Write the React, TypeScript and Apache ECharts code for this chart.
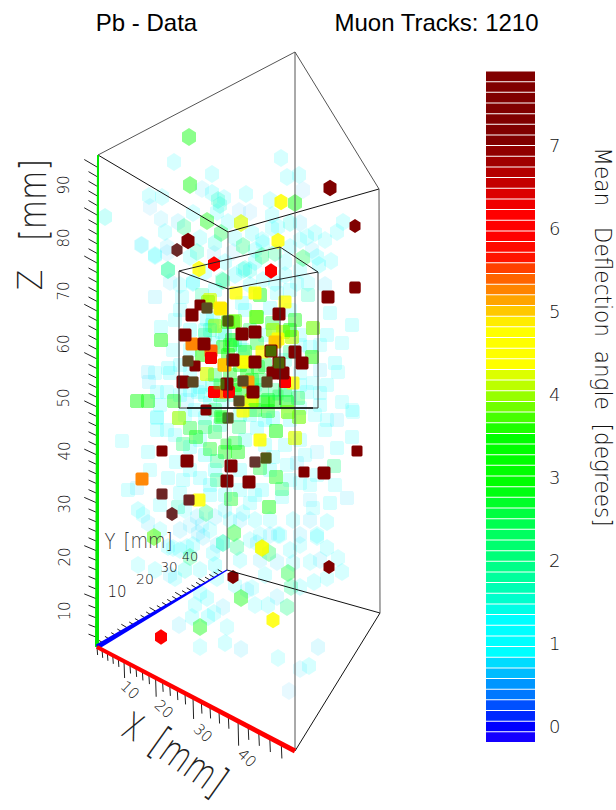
import React, { useEffect, useRef } from "react";
import * as echarts from "echarts";

// Colour scale rows of the bar, bottom to top
const rowColors = [
  "#1400ff","#0000ff","#0028ff","#0050ff","#0078ff","#0096ff","#00bcff","#00dcff","#00ffff","#00ffff","#00ffff","#00ffff",
  "#00ffe6","#00ffcc","#00ffb4","#00ff9c","#00ff88","#00ff78","#00ff6e","#00ff60","#00ff50","#00ff40","#00ff28","#00ff10",
  "#00ff00","#00ff00","#00ff00","#00ff00","#00ff00","#1eff00","#46ff00","#70ff00","#96ff00","#bcff00","#dcff00",
  "#ffff00","#ffff00","#ffff00","#ffff00","#ffec00","#ffc800","#ffa400","#ff8400","#ff6400","#ff4000","#ff1400","#ff0a00",
  "#ff0000","#ff0000","#ff0000","#f00000","#dc0000","#c40000","#b40000","#a00000","#900000",
  "#800000","#800000","#800000","#800000","#800000","#800000","#800000",
];
const scaleMin = -0.205;
const scaleMax = 7.895;
const scaleLabels = [0, 1, 2, 3, 4, 5, 6, 7];

// Picture-plane position and mean deflection angle of each voxel
const faintMarks: number[][] = [
  [174,162,1],[212,174,1],[281,158,1],[287,177,1],[299,175,1],[303,190,0.6],[246,194,1],[149,196,1],[162,197,1],[150,207,0.6],
  [202,189,0.7],[212,193,1.2],[218,200,1.6],[224,198,1],[220,205,1.5],[105,217,1.4],[161,219,0.7],[193,213,1],[217,212,1],[228,222,1],
  [239,211,0.6],[250,212,0.6],[270,200,1],[272,215,1],[290,223,1.4],[300,223,0.8],[278,227,1],[252,233,1.1],[272,228,1],[343,222,1],
  [337,232,1],[315,233,1],[307,237,1],[262,240,1],[215,243,1.4],[141,245,0.7],[155,256,1],[167,253,0.6],[197,252,1.7],[190,257,1],
  [214,254,0.6],[233,252,0.6],[290,247,1.1],[312,250,0.7],[317,257,1.1],[331,261,1],[319,265,1.2],[263,243,1],[245,269,1.5],[250,270,1.4],
  [193,282,1],[142,245,0.9],[155,255,1],[167,247,0.7],[168,270,1.6],[170,282,0.7],[155,297,0.8],[182,297,1],[193,283,1.2],[202,295,1.8],
  [161,327,1],[173,350,0.9],[180,310,1],[207,319,1.3],[213,318,1.2],[243,270,1.4],[222,280,1.5],[242,303,1.2],[263,280,1.1],[277,293,1],
  [308,295,1.6],[290,310,1.1],[308,283,0.9],[297,283,1],[330,313,1],[352,325,1],[327,335,1.1],[342,343,0.9],[310,347,1],[335,363,1],
  [338,372,0.9],[313,383,0.9],[327,385,1],[342,402,0.9],[353,412,0.9],[148,372,0.8],[155,373,0.9],[168,368,1.1],[170,373,1.2],[149,382,0.8],
  [167,392,1],[157,392,1],[190,373,1.1],[200,387,1.2],[187,400,0.8],[210,403,1.3],[223,400,1.2],[307,392,1],[320,393,1],[300,373,0.9],
  [157,417,1],[213,343,1.3],[198,392,1.3],[243,350,1.6],[235,340,1.8],[122,441,0.9],[148,452,1],[157,418,1],[157,430,1],[167,430,1],
  [176,462,1],[168,478,1],[128,490,1],[137,488,0.8],[138,510,1.1],[148,523,0.8],[143,515,0.9],[200,478,1.1],[183,480,1],[180,493,1],
  [197,517,0.8],[215,517,0.8],[250,503,1],[255,520,1],[278,535,1],[293,520,1],[313,508,0.9],[330,503,1],[347,498,0.8],[335,485,0.9],
  [317,475,1],[317,452,0.7],[337,448,1],[327,420,0.9],[337,420,0.8],[352,437,1],[352,410,0.9],[273,418,1.2],[257,428,1.3],[290,420,1.2],
  [243,513,1],[317,535,1],[327,522,1],[282,497,1],[300,483,0.9],[287,465,0.9],[297,463,0.8],[273,457,1.2],[190,447,1.2],[200,440,1.1],
  [202,525,0.7],[203,537,0.8],[217,545,0.8],[198,533,0.8],[180,550,1],[168,547,1],[138,565,0.9],[155,570,1],[175,578,1],[185,570,1.4],
  [170,575,0.8],[200,593,1],[207,598,1.1],[217,578,1],[247,590,0.8],[252,588,0.9],[265,575,1],[277,562,0.8],[293,563,0.9],[310,562,0.9],
  [317,537,1],[338,558,0.9],[327,548,1],[290,550,1],[280,535,1],[257,543,0.8],[223,543,1.6],[213,553,1],[193,545,1],[187,547,1],
  [173,548,1],[179,625,0.8],[192,617,1],[227,627,0.9],[200,647,0.9],[225,643,1],[241,649,0.8],[278,658,0.9],[318,647,0.8],[309,666,1],
  [300,669,0.7],[289,691,0.6],[214,613,1],[208,617,1.1],[223,607,0.8],[268,605,1],[277,597,0.8],[314,582,1],[342,572,1],[327,578,0.9],
  [300,587,1],[240,470,1.2],[262,490,1.1],[210,495,1.1],[225,510,1],[260,535,0.9],[240,520,0.8],[300,440,1],[310,500,0.7],[215,470,1.3],
  [165,232,1],[178,222,0.8],[200,238,1],[235,238,1],[255,250,1.1],[285,262,1],[300,240,0.9],[325,240,0.9],[205,272,1],[225,262,1.1],
  [255,262,1.2],[285,275,1],[300,270,1],[180,285,0.9],[215,290,1.2],[235,275,1.3],[275,283,1],[290,290,1.1],[250,285,1.1],[325,285,0.8],
  [175,320,1],[190,330,1.3],[205,330,1.4],[212,325,1.5],[222,332,1.4],[245,310,1.2],[270,308,1.2],[300,335,1],[320,345,0.9],[190,350,1.2],
  [180,365,1.2],[225,335,1.5],[240,345,1.4],[265,335,1.2],[300,345,1],[285,360,1.4],[320,370,0.8],[180,395,1.2],[190,390,1.3],[212,385,1.5],
  [235,395,1.6],[255,385,1.5],[300,385,1.1],[290,395,1.2],[320,405,1],[160,405,1],[205,395,1.4],[195,410,1.2],[185,415,1],[205,418,1.2],
  [250,415,1.4],[265,420,1.3],[300,408,1],[315,415,0.9],[325,430,0.9],[220,425,1.5],[240,415,1.5],[175,435,1],[205,455,1.3],[245,440,1.4],
  [265,445,1.2],[285,445,1],[305,455,0.9],[190,470,1.1],[210,485,1.2],[240,490,1.1],[255,495,1],[270,470,1.2],[290,480,1],[310,485,0.9],
  [150,470,0.9],[160,505,1],[185,510,0.9],[225,495,1.1],[270,520,0.9],[300,535,0.8],[310,520,0.8],[210,530,0.9],[230,520,1],[250,540,0.9],
  [270,535,0.8],[190,525,0.7],[160,530,0.9],[180,530,0.8],[240,560,1],[260,560,0.8],[300,545,0.9],[320,560,0.8],[215,565,1.3],[200,570,1],
  [235,585,1],[255,605,0.9],[195,605,1],
];
const midMarks: number[][] = [
  [189,137,3.3],[190,185,3.2],[295,203,3.4],[207,221,2.9],[184,227,2],[221,233,2.5],[243,246,2.2],[262,256,2.2],[275,253,1.9],[303,258,2.4],
  [168,270,2.1],[223,281,2.2],[260,295,3.2],[161,340,3.2],[295,320,3],[272,323,2.6],[257,317,3.5],[233,322,3.6],[256,317,3.8],[313,328,3.9],
  [292,337,4.1],[273,330,4],[257,343,2.7],[223,347,3.1],[230,345,3],[232,340,2.9],[228,355,3.2],[202,355,3.6],[312,357,3.6],[247,372,3],
  [258,367,2.8],[252,380,2.8],[278,372,3.6],[283,332,4.1],[137,401,3.3],[148,401,3.3],[174,401,3],[287,402,3.5],[263,402,3],[275,402,3.2],
  [268,400,3],[298,398,2.5],[262,390,2.2],[275,390,2.1],[268,411,2.9],[190,428,2.7],[205,427,2.3],[215,432,2.5],[196,437,3],[239,427,2.3],
  [276,431,3.5],[183,444,2.3],[210,449,2.8],[235,443,2.7],[225,452,3],[238,452,3],[260,468,2.7],[217,461,2.2],[334,466,2],[276,477,3],
  [282,489,2.4],[217,480,2.2],[231,499,2.8],[269,507,3.2],[206,513,2.2],[178,507,1.7],[234,533,2.8],[154,537,3.7],[269,553,2.4],[288,573,2.7],
  [237,547,2],[223,543,1.7],[190,557,2],[200,627,3],[241,598,3],[287,607,2.1],[291,587,1.9],[288,412,3.9],[179,418,4],[299,417,3.9],
  [252,400,4.2],[251,401,4.2],[207,374,4.2],[215,326,4],[228,322,3.6],[210,300,4.2],[208,302,4],[235,321,3.8],[262,548,4.2],[295,438,4.2],
  [241,223,4.2],[221,417,3.2],[240,390,3],[230,375,2.8],[245,352,3],[260,380,2.5],[215,375,2.4],[235,385,3],[285,390,2.6],[220,395,2.6],
  [240,365,3],[205,335,2],[290,352,2.2],[210,330,1.7],[215,410,2.4],[255,410,2.8],[290,330,3.4],[250,330,2.4],[265,365,2.6],
];
const warmMarks: number[][] = [
  [281,202,4.7],[278,241,4.6],[199,269,4.6],[236,293,4.5],[255,293,4.8],[285,302,4.5],[220,308,4.9],[221,309,4.9],[278,339,4.8],[275,342,5],
  [262,352,4.4],[244,362,4.5],[293,383,4.6],[243,411,4.6],[260,440,4.7],[199,500,4.7],[273,620,4.7],[262,548,4.3],[243,362,4.5],[192,344,5.3],
  [211,351,5.4],[224,365,5.1],[225,392,5.2],[248,382,5.1],[142,479,5.2],[225,365,5],
];
const redMarks: number[][] = [
  [214,264,6],[271,271,6],[285,382,6],[229,392,5.9],[161,637,5.9],[214,392,6.2],[211,358,6.3],
];
const darkMarks: number[][] = [
  [188,241,7.4],[192,315,7.2],[279,314,7.3],[242,334,7.3],[255,332,7.2],[185,335,7.3],[204,344,7.2],[295,352,7.2],[233,360,7.4],[255,362,7.3],
  [302,363,7.2],[279,363,7.1],[271,351,7],[183,382,7.2],[227,384,7.2],[273,373,7.2],[283,373,7],[253,392,7.2],[187,461,7.4],[231,466,7.5],
  [227,481,7.5],[249,482,7.4],[330,188,7.3],[328,297,7.4],[324,473,7.2],
];
const farDarkMarks: number[][] = [
  [177,250,7.1],[355,226,7.2],[355,288,7.2],[200,305,7.2],[207,308,7.1],[228,321,7],[188,361,7.1],[195,366,7.2],[243,381,7.1],[193,382,7.1],
  [267,382,7.1],[239,401,7.1],[206,410,7.3],[228,418,7.1],[162,451,7.3],[357,451,7.2],[255,462,7.1],[266,458,7],[304,472,7.2],[162,494,7.1],
  [189,500,7.1],[172,514,7.1],[329,567,7.2],[233,577,7.2],[355,287,7.2],
];
const frontMarks: number[][] = [
  [177,250,1],[207,308,2.2],[228,321,2.8],[271,351,3],[188,361,2],[279,363,2.8],[243,381,2],[193,382,2],[267,382,2],[219,384,2.8],
  [239,401,2],[221,417,2.8],[228,418,2.2],[255,462,1.4],[266,458,2.6],[226,444,2.8],[162,494,0.9],[189,500,0.9],[172,514,1],[278,395,2.6],
];

// Axis ticks, in mm
const xTicks = [0,2,4,6,8,10,12,14,16,18,20,22,24,26,28,30,32,34,36,38,40,42,44,46,48];
const yTicks = [2,4,6,8,10,12,14,16,18,20,22,24,26,28,30,32,34,36,38,40,42,44,46,48];
const zTicks = [2,4,6,8,10,12,14,16,18,20,22,24,26,28,30,32,34,36,38,40,42,44,46,48,50,52,54,56,58,60,62,64,66,68,70,72,74,76,78,80,82,84,86,88,90,92,94,96,98,100];

const xLabels = [["10",130,690],["20",164,709],["30",203,733],["40",247,758]];
const yLabels = [["10",117,592,15],["20",145,579,14],["30",169,567,13.5],["40",190,556,13]];
const zLabels = [["90",64,185],["80",64,238],["70",64,291],["60",64,344],["50",64,398],["40",65,451],["30",65,504],["20",65,557],["10",65,611]];

// Box edges in the picture plane
const O = [97,647], X = [295,751], XY = [380,613], Y = [227,570];
const Ot = [98,155], Xt = [295,52], XYt = [379,189], Yt = [228,232];
const outerEdges = [[X,XY],[XY,Y],[Ot,Xt],[Xt,XYt],[XYt,Yt],[Yt,Ot],[X,Xt],[XY,XYt],[Y,Yt]];
const innerTop = [[179,271],[280,247],[318,272],[228,289]];
const innerBottom = [[179,408],[280,405],[318,408],[228,409]];

const FONT = "'DejaVu Sans', sans-serif";
const THIN = 200;

const rowOf = (v: number) => {
  const n = rowColors.length;
  return Math.max(0, Math.min(n - 1, Math.floor(((v - scaleMin) / (scaleMax - scaleMin)) * n)));
};
const alphaValues = [0, 0.5, 1, 1.5, 2, 2.5, 3, 3.5, 4, 4.5, 5, 5.5, 8];
const alphaLevels = [0.06, 0.08, 0.16, 0.22, 0.28, 0.34, 0.42, 0.48, 0.62, 0.8, 0.95, 1, 1];
const alphaOf = (v: number) => {
  for (let i = 1; i < alphaValues.length; i++) {
    if (v <= alphaValues[i]) {
      const f = (v - alphaValues[i - 1]) / (alphaValues[i] - alphaValues[i - 1]);
      return alphaLevels[i - 1] + f * (alphaLevels[i] - alphaLevels[i - 1]);
    }
  }
  return 1;
};

const HEX = "path://M5,0 L10,3 L10,9 L5,12 L0,9 L0,3 Z";
const CUBE = "path://M1,0 L9,0 L10,1 L10,9 L9,10 L1,10 L0,9 L0,1 Z";
const isFlat = (py: number) => py > 285 && py < 510;

// Per-point alpha is applied through a colour with alpha
const toRgba = (hex: string, a: number) => {
  const n = parseInt(hex.slice(1), 16);
  return `rgba(${(n >> 16) & 255},${(n >> 8) & 255},${n & 255},${a})`;
};

const markSeries = (data: number[][], w: number, z = 2) => ({
  type: "scatter",
  xAxisIndex: 0,
  yAxisIndex: 0,
  z,
  data,
  encode: { x: 0, y: 1 },
  symbol: (val: number[]) => (isFlat(val[1]) ? CUBE : HEX),
  symbolSize: (val: number[]) => (isFlat(val[1]) ? [w, w] : [w, w * 1.28]),
  itemStyle: {
    color: (p: any) => toRgba(rowColors[rowOf(p.value[2])], alphaOf(p.value[2])),
    opacity: 1,
  },
  silent: true,
  emphasis: { disabled: true },
});

const along = (a: number[], b: number[], t: number) => [a[0] + (b[0] - a[0]) * t, a[1] + (b[1] - a[1]) * t];
const xFrac = (s: number) => (2.505 * s) / (1 - 0.00724 * s) / 198;
const yFrac = (s: number) => (3.3 * s) / (1 + 0.0054 * s) / 130;

type Seg = { a: number[]; b: number[]; w: number; c: string };
const segments: Seg[] = [];
outerEdges.forEach(([a, b], i) => segments.push({ a, b, w: 1, c: i >= 6 || i === 2 || i === 3 ? "#555" : "#111" }));
innerTop.forEach((p, i) => {
  segments.push({ a: p, b: innerTop[(i + 1) % 4], w: 1, c: "#222" });
  segments.push({ a: p, b: innerBottom[i], w: 1, c: "#333" });
});
segments.push({ a: innerBottom[0], b: innerBottom[2], w: 1, c: "#333" });
segments.push({ a: [187, 408], b: [313, 408], w: 1.6, c: "#111" });
xTicks.forEach((s) => {
  const p = along(O, X, xFrac(s));
  const scale = 1 + 0.9 * xFrac(s);
  const len = (s % 10 === 0 && s > 0 ? 15 : 8) * scale;
  segments.push({ a: p, b: [p[0] + 0.6, p[1] + len], w: 1, c: "#222" });
});
yTicks.forEach((s) => {
  const p = along(O, Y, yFrac(s));
  const k = s % 10 === 0 ? 1.4 : 1;
  segments.push({ a: p, b: [p[0] - 5 * k, p[1] - 3 * k], w: 1, c: "#222" });
});
zTicks.forEach((s) => {
  const p = [97, 647 - 4.8 * s];
  const k = s % 10 === 0 ? 1.5 : 1;
  const rise = 3.2 + (s / 100) * 1.8;
  segments.push({ a: p, b: [p[0] - 8.5 * k, p[1] - rise * k], w: 1, c: "#222" });
});

const taper = (a: number[], b: number[], wa: number, wb: number, c: string) => ({ a, b, wa, wb, c });
const colouredAxes = [
  taper(O, Ot, 4, 2, "#00e800"),
  taper(O, Y, 5, 1.4, "#0000ff"),
  taper(O, X, 4, 5, "#ff0000"),
];

const renderLinework = (_: any, api: any) => {
  const children: any[] = segments.map((s) => {
    const a = api.coord(s.a);
    const b = api.coord(s.b);
    return {
      type: "line",
      shape: { x1: a[0], y1: a[1], x2: b[0], y2: b[1] },
      style: { stroke: s.c, lineWidth: s.w, fill: null },
    };
  });
  colouredAxes.forEach((s) => {
    const a = api.coord(s.a);
    const b = api.coord(s.b);
    const dx = b[0] - a[0];
    const dy = b[1] - a[1];
    const l = Math.hypot(dx, dy);
    const nx = -dy / l;
    const ny = dx / l;
    children.push({
      type: "polygon",
      shape: {
        points: [
          [a[0] + (nx * s.wa) / 2, a[1] + (ny * s.wa) / 2],
          [b[0] + (nx * s.wb) / 2, b[1] + (ny * s.wb) / 2],
          [b[0] - (nx * s.wb) / 2, b[1] - (ny * s.wb) / 2],
          [a[0] - (nx * s.wa) / 2, a[1] - (ny * s.wa) / 2],
        ],
      },
      style: { fill: s.c },
    });
  });
  return { type: "group", children };
};

const renderScaleRow = (_: any, api: any) => {
  const i = api.value(0);
  const step = (scaleMax - scaleMin) / rowColors.length;
  const lo = api.coord([0, scaleMin + i * step]);
  const hi = api.coord([1, scaleMin + (i + 1) * step]);
  return {
    type: "rect",
    shape: { x: lo[0], y: hi[1], width: hi[0] - lo[0], height: lo[1] - hi[1] - 1 },
    style: { fill: rowColors[i] },
  };
};

const txt = (text: string, x: number, y: number, size: number, rotation = 0, fill = "#111", family = FONT, weight: any = THIN, scaleX = 1, scaleY = 1) => ({
  type: "text",
  x,
  y,
  rotation,
  scaleX,
  scaleY,
  z: 10,
  style: {
    text,
    fill,
    font: `${weight} ${size}px ${family}`,
    textAlign: "center",
    textVerticalAlign: "middle",
  },
});

const SANS = "'Liberation Sans', sans-serif";

export default function App() {
  const ref = useRef<HTMLDivElement>(null);
  useEffect(() => {
    document.body.style.margin = "0";
    const chart = echarts.init(ref.current!, undefined, { renderer: "svg", width: 616, height: 810 });
    chart.setOption({
      animation: false,
      backgroundColor: "#ffffff",
      grid: [
        { left: 0, top: 0, width: 616, height: 810 },
        { left: 486, top: 71.5, width: 49, height: 671.5 },
      ],
      xAxis: [
        { type: "value", gridIndex: 0, min: 0, max: 616, show: false },
        { type: "value", gridIndex: 1, min: 0, max: 1, show: false },
      ],
      yAxis: [
        { type: "value", gridIndex: 0, min: 0, max: 810, inverse: true, show: false },
        {
          type: "value",
          gridIndex: 1,
          min: scaleMin,
          max: scaleMax,
          position: "right",
          axisLine: { show: false },
          axisTick: { show: false },
          splitLine: { show: false },
          axisLabel: {
            customValues: scaleLabels,
            margin: 14,
            color: "#111",
            fontSize: 18,
            fontWeight: THIN,
            fontFamily: FONT,
          },
        },
      ],
      series: [
        markSeries(faintMarks, 14),
        markSeries(midMarks, 14),
        markSeries(warmMarks, 13),
        markSeries(redMarks, 12),
        markSeries(darkMarks, 13),
        markSeries(farDarkMarks, 11),
        markSeries(frontMarks, 11, 3),
        {
          type: "custom",
          xAxisIndex: 0,
          yAxisIndex: 0,
          z: 4,
          silent: true,
          data: [[0, 0]],
          renderItem: renderLinework,
        },
        {
          type: "custom",
          xAxisIndex: 1,
          yAxisIndex: 1,
          silent: true,
          data: rowColors.map((_, i) => [i]),
          encode: { x: -1, y: -1 },
          renderItem: renderScaleRow,
        },
      ],
      graphic: {
        elements: [
          txt("Pb - Data", 146.5, 22, 24, 0, "#000", SANS, 400),
          txt("Muon Tracks: 1210", 436.5, 22, 24, 0, "#000", SANS, 400),
          txt("Z", 30, 280, 30, Math.PI / 2, "#222", FONT, THIN, 1, 1.15),
          txt("[mm]", 33, 200, 30, Math.PI / 2, "#222", FONT, THIN, 1, 1.25),
          txt("X", 133, 727, 30, -0.45, "#222", FONT, THIN, 0.85, 1.25),
          txt("[mm]", 189, 762, 32, -0.62, "#222", FONT, THIN, 0.95, 1.3),
          txt("Y", 110, 542, 18, 0, "#333", FONT, THIN, 1, 1.2),
          txt("[mm]", 148, 541, 18, 0, "#333", FONT, THIN, 1, 1.2),
          txt("Mean   Deflection  angle  [degrees]", 603, 337, 21, -Math.PI / 2, "#111", FONT, THIN, 1.03, 1.1),
          ...xLabels.map((l: any) => txt(l[0], l[1], l[2], 15, -0.75)),
          ...yLabels.map((l: any) => txt(l[0], l[1], l[2], l[3], 0)),
          ...zLabels.map((l: any) => txt(l[0], l[1], l[2], 15, Math.PI / 2)),
        ],
      },
    });
    return () => chart.dispose();
  }, []);
  return <div ref={ref} style={{ position: "absolute", left: 0, top: 0, width: 616, height: 810 }} />;
}
